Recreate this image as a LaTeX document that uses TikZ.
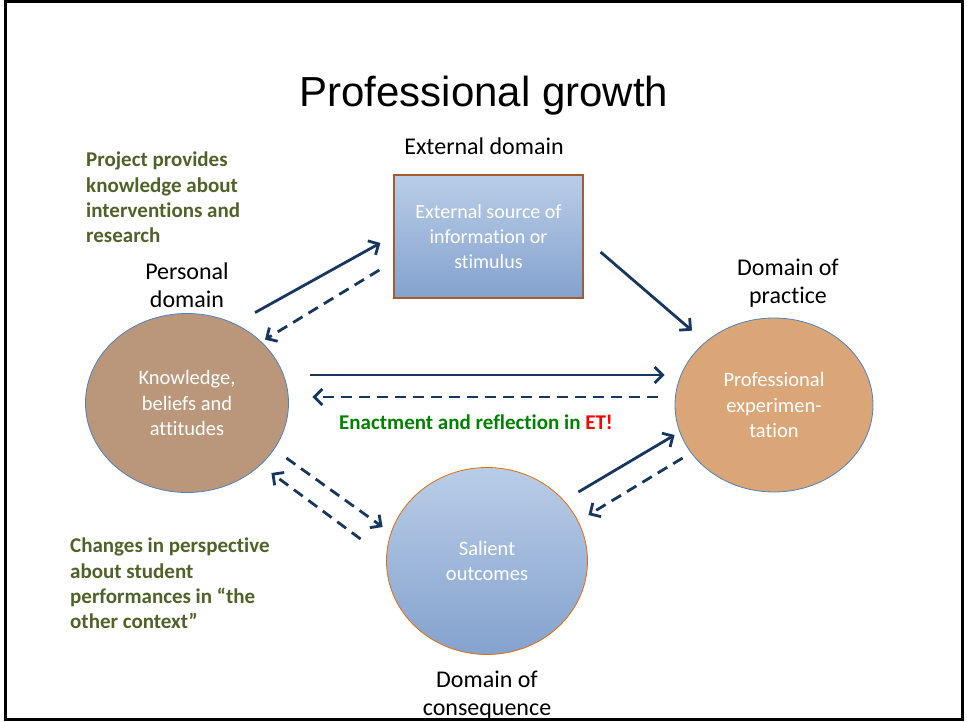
\documentclass[tikz,border=0pt]{standalone}
\usepackage{fontspec}
\setmainfont{Carlito}[Ligatures=NoCommon]
\newfontfamily\titlefont{Liberation Sans}
\usetikzlibrary{shapes.geometric,arrows.meta}

\definecolor{arrowblue}{RGB}{23,55,94}
\definecolor{remarkgreen}{RGB}{79,98,40}
\definecolor{enactgreen}{RGB}{0,130,0}
\definecolor{skytop}{RGB}{185,205,231}
\definecolor{skybottom}{RGB}{132,162,206}
\definecolor{knowfill}{RGB}{186,151,122}
\definecolor{pracfill}{RGB}{218,166,120}
\definecolor{rimblue}{RGB}{79,129,189}
\definecolor{boxbrown}{RGB}{166,92,46}
\definecolor{salorange}{RGB}{228,108,10}

\begin{document}
\begin{tikzpicture}[x=1pt, y=-1pt,
    solidarrow/.style={line width=2.8pt, draw=arrowblue,
        -{Straight Barb[length=8pt, width=16pt]}},
    dasharrow/.style={solidarrow, dash pattern=on 11pt off 7pt},
    bubble/.style={ellipse, inner sep=0pt, line width=0.8pt, text=white,
        align=center, font=\fontsize{20.5}{25.5}\selectfont},
    domainlabel/.style={align=center, inner sep=0pt,
        font=\fontsize{24}{28}\selectfont},
    remark/.style={align=left, inner sep=0pt, text=remarkgreen,
        font=\bfseries\fontsize{21}{25.3}\selectfont}]
    \useasboundingbox (0,0) rectangle (967,722);
    \draw[line width=3pt] (5,2) rectangle (962,719);

    \node[font=\titlefont\fontsize{42}{48}\selectfont, anchor=base] (title) at (484,107) {Professional growth};

    \node[rectangle, draw=boxbrown, line width=1.2pt, top color=skytop, bottom color=skybottom,
        minimum width=189pt, minimum height=123pt, text=white, align=center,
        font=\fontsize{20}{25}\selectfont] (ext) at (488.5,236.5) {External source of\\information or\\stimulus};
    \node[bubble, draw=rimblue, fill=knowfill, minimum width=203pt, minimum height=179pt] (know) at (187,403) {Knowledge,\\beliefs and\\attitudes};
    \node[bubble, draw=rimblue, fill=pracfill, minimum width=198pt, minimum height=174pt] (prac) at (774,405) {Professional\\experimen-\\tation};
    \node[bubble, draw=salorange, top color=skytop, bottom color=skybottom, minimum width=201pt, minimum height=187pt] (sal) at (487,561) {Salient\\outcomes};

    \node[domainlabel, anchor=base] (extlabel) at (484,155) {External domain};
    \node[domainlabel] (knowlabel) at (187,285) {Personal\\domain};
    \node[domainlabel] (praclabel) at (788,283.5) {Domain of\\practice};
    \node[domainlabel] (sallabel) at (487,695) {Domain of\\consequence};

    \node[remark, anchor=north west] (project) at (86,152) {Project provides\\knowledge about\\interventions and\\research};
    \node[remark, anchor=north west] (changes) at (70,538) {Changes in perspective\\about student\\performances in ``the\\other context''};
    \node[text=enactgreen, font=\bfseries\fontsize{21}{25}\selectfont, anchor=base] (enact) at (476,429) {Enactment and reflection in \textcolor{red}{ET!}};

    \draw[solidarrow] ([shift={(68,-0.5)}]know.north) -- ([shift={(-13,6.5)}]ext.west);
    \draw[dasharrow] ([shift={(-14,33.5)}]ext.west) -- ([shift={(78,26.5)}]know.north);
    \draw[solidarrow] ([shift={(17,15.5)}]ext.east) -- ([shift={(-82,13)}]prac.north);
    \draw[solidarrow] ([shift={(21.5,-28)}]know.east) -- ([shift={(-10,-30)}]prac.west);
    \draw[dasharrow] ([shift={(-17,-8)}]prac.west) -- ([shift={(23.5,-6)}]know.east);
    \draw[dasharrow] ([shift={(-2.5,55)}]know.east) -- ([shift={(-3.5,-34)}]sal.west);
    \draw[dasharrow] ([shift={(-25.5,-22)}]sal.west) -- ([shift={(-17.5,70)}]know.east);
    \draw[solidarrow] ([shift={(-9.5,-69)}]sal.east) -- ([shift={(0,30)}]prac.west);
    \draw[dasharrow] ([shift={(8,53)}]prac.west) -- ([shift={(0.5,-46)}]sal.east);
\end{tikzpicture}
\end{document}
